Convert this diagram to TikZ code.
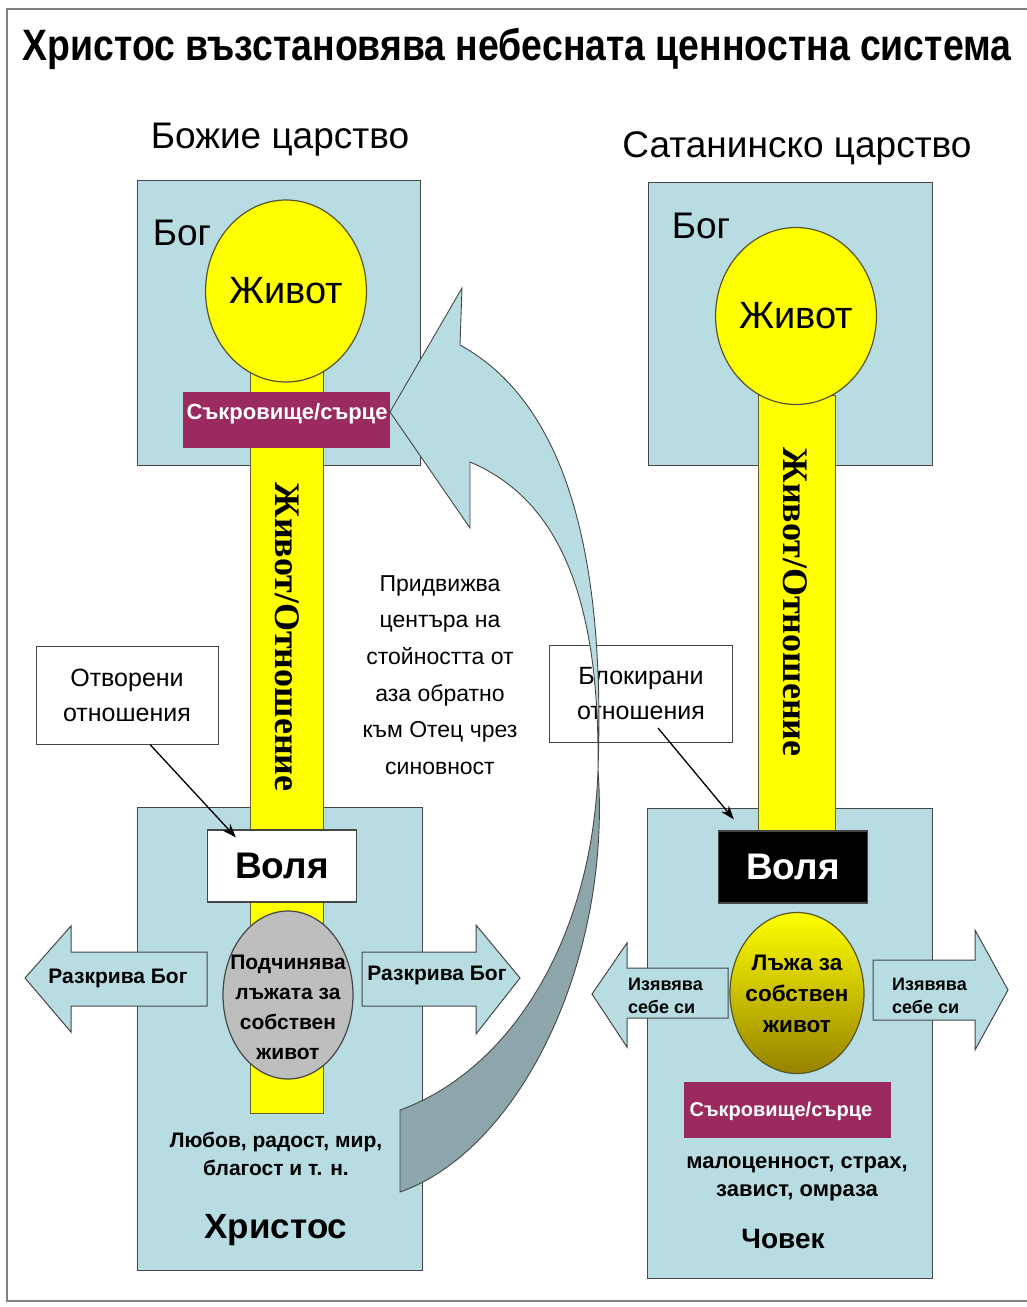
\documentclass[tikz,border=0pt]{standalone}
\usepackage{fontspec}
\setmainfont{Liberation Sans}
\newfontfamily\titlefont[FakeStretch=0.85]{Liberation Sans}
\newfontfamily\timesfont{Liberation Serif}
\usetikzlibrary{arrows.meta}
\usetikzlibrary{positioning}
\usetikzlibrary{shapes.geometric}
\usetikzlibrary{calc}

\definecolor{boxblue}{RGB}{183,221,227}
\definecolor{ribbondark}{RGB}{140,166,172}
\definecolor{treasurered}{RGB}{155,42,94}
\definecolor{lifeyellow}{RGB}{255,255,0}
\definecolor{edgegrey}{RGB}{70,70,70}
\definecolor{darkgold}{RGB}{150,130,0}
\definecolor{selfgrey}{RGB}{190,190,190}

\begin{document}
\begin{tikzpicture}[x=1pt,y=-1pt,
    realm/.style={draw=edgegrey,line width=1.3pt,fill=boxblue,inner sep=0pt,anchor=north west},
    lifebar/.style={draw=olive!60!black,line width=1pt,fill=lifeyellow},
    orb/.style={ellipse,draw=olive!50!black,line width=1.2pt,fill=lifeyellow,inner sep=0pt},
    treasure/.style={fill=treasurered,inner sep=0pt,minimum width=207pt,minimum height=56pt},
    treasuretext/.style={text=white,font=\bfseries\fontsize{22}{24}\selectfont,inner sep=0pt,anchor=base},
    willbox/.style={draw=edgegrey,line width=1.2pt,inner sep=0pt,minimum width=149pt,minimum height=72pt,
      font=\bfseries\fontsize{37}{40}\selectfont},
    note/.style={draw=edgegrey,line width=1pt,fill=white,inner sep=0pt,minimum width=183pt,minimum height=97pt,
      align=center,font=\fontsize{25}{35}\selectfont},
    flow/.style={draw=edgegrey,line width=1pt,fill=boxblue},
    ribbon/.style={draw=edgegrey,line width=0.9pt},
    small/.style={font=\bfseries\fontsize{21}{28}\selectfont,align=center,inner sep=0pt},
    vert/.style={rotate=-90,font=\timesfont\bfseries\fontsize{36}{38}\selectfont,inner sep=0pt},
    big/.style={font=\fontsize{37}{40}\selectfont,inner sep=0pt,anchor=base},
    callout/.style={-{Stealth[length=14pt,width=10pt]},line width=1.3pt}]
\useasboundingbox (0,0) rectangle (1026,1307);
\draw[line width=1.2pt,gray] (7,9) rectangle (1040,1301);

% headings
\node[font=\titlefont\bfseries\fontsize{44}{48}\selectfont,inner sep=0pt,anchor=base] (title) at (517,60)
  {Христос възстановява небесната ценностна система};
\node[big] (kingdomL) at (280,148) {Божие царство};
\node[big] (kingdomR) at (797,157) {Сатанинско царство};

% realms
\node[realm,minimum width=283pt,minimum height=285pt] (heavenL) at (137,180) {};
\node[realm,minimum width=284pt,minimum height=283pt] (heavenR) at (648,182) {};
\node[realm,minimum width=285pt,minimum height=463pt] (earthL) at (137,807) {};
\node[realm,minimum width=285pt,minimum height=470pt] (earthR) at (647,808) {};

% life bars
\draw[lifebar] (250,370) rectangle (323,1113);
\draw[lifebar] (758,395) rectangle (835,832);

\node[orb,minimum width=148pt,minimum height=182pt,font=\fontsize{38}{40}\selectfont] (lifeL) at (286,291) {Живот};
\node[orb,minimum width=148pt,minimum height=177pt,font=\fontsize{38}{40}\selectfont] (lifeR) at (796,316) {Живот};

\node[big] (bogL) at (182,245) {Бог};
\node[big] (bogR) at (701,238) {Бог};

\node[treasure] (treasureL) at (286,420) {};
\node[treasuretext] (treasureLtxt) at (287,419) {Съкровище/сърце};

\node[vert] (relL) at (287,637) {Живот/Отношение};
\node[vert] (relR) at (795,602) {Живот/Отношение};

% will
\node[willbox,fill=white] (willL) at (282,866) {Воля};
\node[willbox,fill=black,text=white] (willR) at (793,867) {Воля};

% reveal / show arrows
\draw[flow] (207,952) -- (71,952) -- (71,926) -- (25,978) -- (71,1032) -- (71,1006) -- (207,1006) -- cycle;
\draw[flow] (362,952) -- (476,952) -- (476,925) -- (520,978) -- (476,1034) -- (476,1006) -- (362,1006) -- cycle;
\draw[flow] (728,968) -- (627,968) -- (627,943) -- (592,994) -- (627,1047) -- (627,1018) -- (728,1018) -- cycle;
\draw[flow] (873,960) -- (975,960) -- (975,930) -- (1008,990) -- (975,1050) -- (975,1020) -- (873,1020) -- cycle;
\node[small] (revealL) at (118,978) {Разкрива Бог};
\node[small] (revealR) at (437,975) {Разкрива Бог};
\node[small,align=left,anchor=west,font=\bfseries\fontsize{18}{23}\selectfont] (showL) at (628,996) {Изявява\\себе си};
\node[small,align=left,anchor=west,font=\bfseries\fontsize{18}{23}\selectfont] (showR) at (892,996) {Изявява\\себе си};

% self
\node[ellipse,draw=edgegrey,line width=1.2pt,fill=selfgrey,minimum width=130pt,minimum height=168pt] (selfL) at (288,995) {};
\node[small,font=\bfseries\fontsize{21}{30}\selectfont] (selfLtxt) at (288,1007) {Подчинява\\лъжата за\\собствен\\живот};
\node[ellipse,draw=olive!50!black,line width=1.2pt,top color=lifeyellow,bottom color=darkgold,
  minimum width=134pt,minimum height=161pt] (selfR) at (797,993) {};
\node[small,font=\bfseries\fontsize{22.5}{31}\selectfont] (selfRtxt) at (797,994) {Лъжа за\\собствен\\живот};

\node[treasure] (treasureR) at (787,1110) {};
\node[treasuretext,font=\bfseries\fontsize{20}{24}\selectfont] (treasureRtxt) at (781,1116) {Съкровище/сърце};

% fruits
\node[small] (fruitL) at (276,1154) {Любов, радост, мир,\\благост и т. н.};
\node[small,font=\bfseries\fontsize{22}{28}\selectfont] (fruitR) at (797,1179) {малоценност, страх,\\завист, омраза};
\node[font=\bfseries\fontsize{35}{40}\selectfont,inner sep=0pt,anchor=base] (christ) at (276,1238) {Христос};
\node[font=\bfseries\fontsize{28}{32}\selectfont,inner sep=0pt,anchor=base] (man) at (783,1248) {Човек};

% notes
\node[note,minimum width=182pt,minimum height=98pt] (openrel) at (127,695) {Отворени\\отношения};
\node[note] (blockrel) at (641,694) {Блокирани\\отношения};
\node[align=center,inner sep=0pt,font=\fontsize{23}{36.6}\selectfont] (movetxt) at (440,675)
  {Придвижва\\центъра на\\стойността от\\аза обратно\\към Отец чрез\\синовност};

% ribbon
\draw[ribbon,fill=boxblue] (462,288) -- (390,412) -- (470,528) -- (470,462)
  .. controls (560,500) and (600,600) .. (598,770)
  .. controls (606,540) and (560,400) .. (460,345) -- cycle;
\draw[ribbon,fill=ribbondark] (598,770) .. controls (612,960) and (520,1150) .. (400,1192)
  -- (400,1110) .. controls (510,1070) and (592,940) .. (598,770) -- cycle;

% callouts
\draw[callout] ([xshift=23pt]openrel.south) -- ([shift={(29pt,-8pt)}]willL.north west);
\draw[callout] ([shift={(17pt,-34pt)}]blockrel.center) -- ([shift={(16pt,11pt)}]willR.north west);
\end{tikzpicture}
\end{document}
